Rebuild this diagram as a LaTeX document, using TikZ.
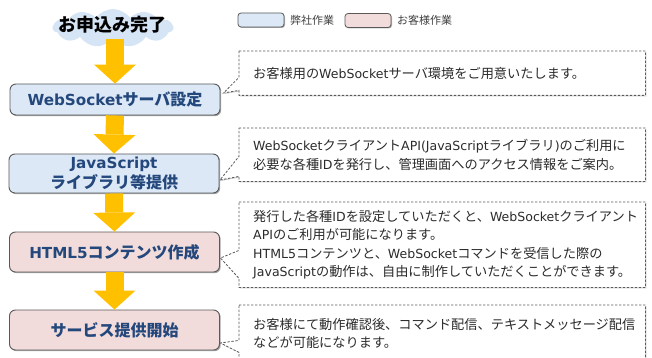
\documentclass[tikz,border=0pt]{standalone}
\usepackage{fontspec}
\setmainfont{DejaVu Sans}
\newfontfamily\jp{Noto Sans CJK JP}
\newfontfamily\lt[Scale=0.95]{DejaVu Sans}
\usetikzlibrary{shapes.symbols,arrows.meta,shadows,calc,backgrounds}
\definecolor{bluefill}{HTML}{DCE8F6}
\definecolor{pinkfill}{HTML}{F2DCDB}
\definecolor{boxtext}{HTML}{24487C}
\definecolor{gold}{HTML}{FFC000}
\definecolor{cloudblue}{HTML}{D5E5F5}
\definecolor{edgegray}{HTML}{595959}
\definecolor{calltxt}{HTML}{2B2B2B}
\definecolor{legtxt}{HTML}{404040}
\newcommand{\la}[1]{{\lt #1}}
\tikzset{
  stepbox/.style={draw=edgegray, line width=0.9pt, rounded corners=6pt,
    minimum width=210pt, inner sep=0pt, align=center, text=boxtext,
    font=\jp\bfseries\fontsize{16}{20}\selectfont,
    drop shadow={shadow xshift=1.2pt, shadow yshift=-1.2pt, opacity=0.35, fill=black}},
  ours/.style={stepbox, fill=bluefill},
  theirs/.style={stepbox, fill=pinkfill},
  flowarrow/.style={draw=gold, line width=18pt,
    -{Triangle[width=42pt, length=19pt, line width=0pt 0 0]}},
  calltext/.style={anchor=north west, inner xsep=14pt, inner ysep=0pt,
    text width=378pt, align=left, text=calltxt,
    font=\jp\fontsize{13.2}{18.5}\selectfont},
  callline/.style={draw=edgegray, line width=0.8pt, dash pattern=on 2.4pt off 1.6pt,
    fill=white, line join=miter,
    drop shadow={shadow xshift=1pt, shadow yshift=-1pt, opacity=0.2, fill=black}},
  legbox/.style={draw=edgegray, line width=0.8pt, rounded corners=3pt,
    minimum width=46pt, minimum height=14pt, inner sep=0pt,
    drop shadow={shadow xshift=1pt, shadow yshift=-1pt, opacity=0.3, fill=black}},
  legtext/.style={anchor=west, inner sep=0pt, text=legtxt,
    font=\jp\fontsize{11}{13}\selectfont},
}
\begin{document}
\begin{tikzpicture}[x=1pt, y=-1pt]
\useasboundingbox (0,0) rectangle (652,358);

% legend
\node[legbox, fill=bluefill] (lb1) at (261,20) {};
\node[legtext] (lt1) at (290,20) {弊社作業};
\node[legbox, fill=pinkfill] (lb2) at (368,20.5) {};
\node[legtext] (lt2) at (397,20) {お客様作業};

% start cloud
\node[cloud, cloud puffs=11, cloud puff arc=110, aspect=3.3, fill=cloudblue,
  minimum width=120pt, minimum height=38pt, inner sep=0pt] (cloud) at (113,28) {};
\node[inner sep=0pt, font=\jp\bfseries\fontsize{18}{20}\selectfont] (start) at (112,25) {お申込み完了};

% steps
\node[ours, minimum height=31pt] (b1) at (115,99.5) {\la{WebSocket}サーバ設定};
\node[ours, minimum height=39pt] (b2) at (114,173.5) {\la{JavaScript}\\ライブラリ等提供};
\node[theirs, minimum height=40pt] (b3) at (114.5,252) {\la{HTML5}コンテンツ作成};
\node[theirs, minimum height=40pt] (b4) at (114.5,330) {サービス提供開始};

% flow arrows
\draw[flowarrow] (b1.north |- cloud.south) -- (b1.north);
\draw[flowarrow] (b1.south) -- (b2.north);
\draw[flowarrow] (b2.south) -- (b3.north);
\draw[flowarrow] (b3.south) -- (b4.north);

% callout tips
\coordinate (t1) at ($(b1.east)+(3,-6.5)$);
\coordinate (t2) at ($(b2.east)+(0.5,6.5)$);
\coordinate (t3) at ($(b3.east)+(0.5,6)$);
\coordinate (t4) at ($(b4.east)+(0.5,13)$);

% callouts
\node[calltext, minimum width=404pt, minimum height=44pt] (c1) at (239,51)
  {お客様用の\la{WebSocket}サーバ環境をご用意いたします。};
\node[calltext, minimum width=406pt, minimum height=53pt] (c2) at (239,128)
  {\la{WebSocket}クライアント\la{API(JavaScript}ライブラリ\la{)}のご利用に\\
   必要な各種\la{ID}を発行し、管理画面へのアクセス情報をご案内。};
\node[calltext, minimum width=406pt, minimum height=85pt] (c3) at (239,202)
  {発行した各種\la{ID}を設定していただくと、\la{WebSocket}クライアント\\
   \la{API}のご利用が可能になります。\\
   \la{HTML5}コンテンツと、\la{WebSocket}コマンドを受信した際の\\
   \la{JavaScript}の動作は、自由に制作していただくことができます。};
\node[calltext, minimum width=406pt, minimum height=57pt] (c4) at (239,305)
  {お客様にて動作確認後、コマンド配信、テキストメッセージ配信\\
   などが可能になります。};

\begin{scope}[on background layer]
\fill[white] (0,0) rectangle (652,358);
\foreach \c/\t/\a/\b in {c1/t1/5/18, c2/t2/5/25, c3/t3/9/37, c4/t4/10/22}{
  \draw[callline] (\c.north west) -- (\c.north east) -- (\c.south east) -- (\c.south west)
    -- ($(\c.south west)+(0,-\a)$) -- (\t) -- ($(\c.south west)+(0,-\b)$) -- cycle;
}
\end{scope}
\end{tikzpicture}
\end{document}
